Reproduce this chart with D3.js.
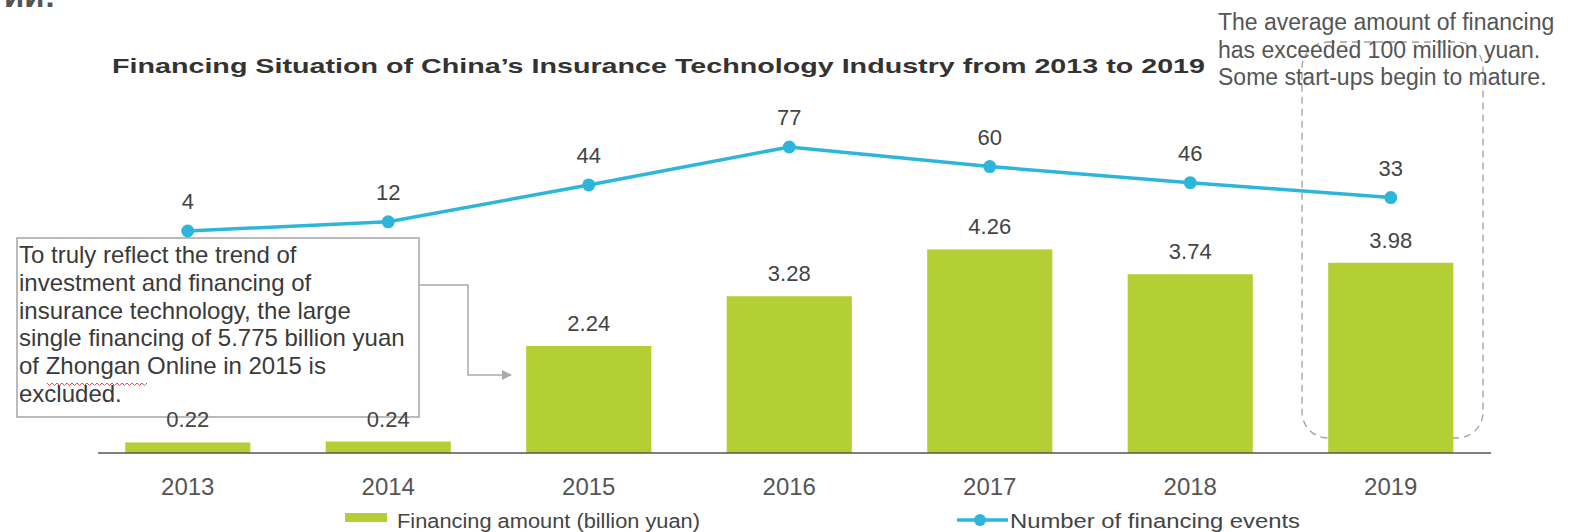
<!DOCTYPE html>
<html><head><meta charset="utf-8">
<script src="https://cdn.jsdelivr.net/npm/d3@7"></script>
<style>
html,body{margin:0;padding:0;background:#fff;}
svg{display:block;font-family:"Liberation Sans",Arial,sans-serif;}
</style></head>
<body>
<svg id="c" width="1572" height="532"></svg>
<script>
const years = ["2013","2014","2015","2016","2017","2018","2019"];
const amounts = [0.22,0.24,2.24,3.28,4.26,3.74,3.98];
const events = [4,12,44,77,60,46,33];
const title = "Financing Situation of China\u2019s Insurance Technology Industry from 2013 to 2019";
const noteLines = ["To truly reflect the trend of","investment and financing of","insurance technology, the large","single financing of 5.775 billion yuan","of Zhongan Online in 2015 is","excluded."];
const calloutLines = ["The average amount of financing","has exceeded 100 million yuan.","Some start-ups begin to mature."];
const legendLabels = ["Financing amount (billion yuan)","Number of financing events"];

const svg = d3.select("#c");
const green = "#b3cf33", blue = "#2eb6da", txt = "#444";

const x = d3.scaleBand().domain(years).range([87.5, 1491]).paddingInner(0.376).paddingOuter(0.188);
const yBar = d3.scaleLinear().domain([0,5]).range([453, 453-5*47.8]);
const yLine = d3.scaleLinear().domain([0,100]).range([235.6, 120.5]);

// cut-off heading at top-left (partially outside the frame, as in the reference)
svg.append("text").attr("x",4).attr("y",7).attr("font-size",33).attr("font-weight","bold").attr("fill","#555").text("ии:");

// title
svg.append("text").attr("x",112).attr("y",73).attr("font-size",21).attr("font-weight","bold")
  .attr("fill","#333").attr("textLength",1093).attr("lengthAdjust","spacingAndGlyphs").text(title);

// dashed rounded highlight around 2019
svg.append("rect").attr("x",1302).attr("y",42).attr("width",181).attr("height",396).attr("rx",26)
  .attr("fill","none").attr("stroke","#a0a0a0").attr("stroke-width",1.3).attr("stroke-dasharray","7,5");

// bars
svg.append("g").selectAll("rect").data(amounts).join("rect")
  .attr("x",(d,i)=>x(years[i])).attr("width",x.bandwidth())
  .attr("y",d=>yBar(d)).attr("height",d=>yBar(0)-yBar(d)).attr("fill",green);

// axis baseline + labels
const ax = svg.append("g").attr("transform",`translate(0,${yBar(0)})`)
  .call(d3.axisBottom(x).tickSize(0).tickPadding(0));
ax.select(".domain").attr("d","M98,0H1491").attr("stroke","#555").attr("stroke-width",1.6);
ax.selectAll(".tick text").attr("font-size",24).attr("fill","#555").attr("font-family","Liberation Sans, Arial, sans-serif")
  .attr("dy",null).attr("y",42);

// line
const cx = (d,i)=>x(years[i])+x.bandwidth()/2;
svg.append("path").datum(events)
  .attr("d",d3.line().x(cx).y(d=>yLine(d)))
  .attr("fill","none").attr("stroke",blue).attr("stroke-width",3.5);
svg.append("g").selectAll("circle").data(events).join("circle")
  .attr("cx",cx).attr("cy",d=>yLine(d)).attr("r",6.5).attr("fill",blue);
svg.append("g").selectAll("text").data(events).join("text")
  .attr("x",cx).attr("y",d=>yLine(d)-22).attr("text-anchor","middle")
  .attr("font-size",22).attr("fill",txt).text(d=>d);

// note box
svg.append("rect").attr("x",17).attr("y",238).attr("width",402).attr("height",179)
  .attr("fill","rgba(255,255,255,0.85)").attr("stroke","#a5a5a5").attr("stroke-width",1.5);
const nt = svg.append("text").attr("font-size",24).attr("fill","#3a3a3a");
noteLines.forEach((l,i)=>nt.append("tspan").attr("x",19).attr("y",263+i*27.8).text(l));
// squiggly underline under "Zhongan"
{
  let p = "M47,383"; for(let k=0;k<40;k++){ p += `l2.5,${k%2?-2.5:2.5}`; }
  svg.append("path").attr("d",p).attr("fill","none").attr("stroke","#e05050").attr("stroke-width",1);
}

// bar labels (drawn after the note box, overlapping its bottom edge as in the reference)
svg.append("g").selectAll("text").data(amounts).join("text")
  .attr("x",(d,i)=>x(years[i])+x.bandwidth()/2).attr("y",d=>yBar(d)-15)
  .attr("text-anchor","middle").attr("font-size",22).attr("fill",txt).text(d=>d.toFixed(2));

// connector arrow
svg.append("defs").append("marker").attr("id","ah").attr("viewBox","0 0 10 10").attr("refX",9).attr("refY",5)
  .attr("markerWidth",7).attr("markerHeight",7).attr("orient","auto")
  .append("path").attr("d","M0,0L10,5L0,10z").attr("fill","#aaa");
svg.append("path").attr("d","M419,285H468V375H511").attr("fill","none").attr("stroke","#aaa")
  .attr("stroke-width",1.5).attr("marker-end","url(#ah)");

// callout text
const ct = svg.append("text").attr("font-size",23).attr("fill","#555");
calloutLines.forEach((l,i)=>ct.append("tspan").attr("x",1218).attr("y",30+i*27.5).text(l));

// legend
svg.append("rect").attr("x",345).attr("y",513).attr("width",42).attr("height",9).attr("fill",green);
svg.append("text").attr("x",397).attr("y",528).attr("font-size",20).attr("fill","#444")
  .attr("textLength",303).attr("lengthAdjust","spacingAndGlyphs").text(legendLabels[0]);
svg.append("line").attr("x1",957).attr("x2",1008).attr("y1",520).attr("y2",520).attr("stroke",blue).attr("stroke-width",3.5);
svg.append("circle").attr("cx",980).attr("cy",520).attr("r",6).attr("fill",blue);
svg.append("text").attr("x",1010).attr("y",528).attr("font-size",20).attr("fill","#444")
  .attr("textLength",290).attr("lengthAdjust","spacingAndGlyphs").text(legendLabels[1]);
</script>
</body></html>
